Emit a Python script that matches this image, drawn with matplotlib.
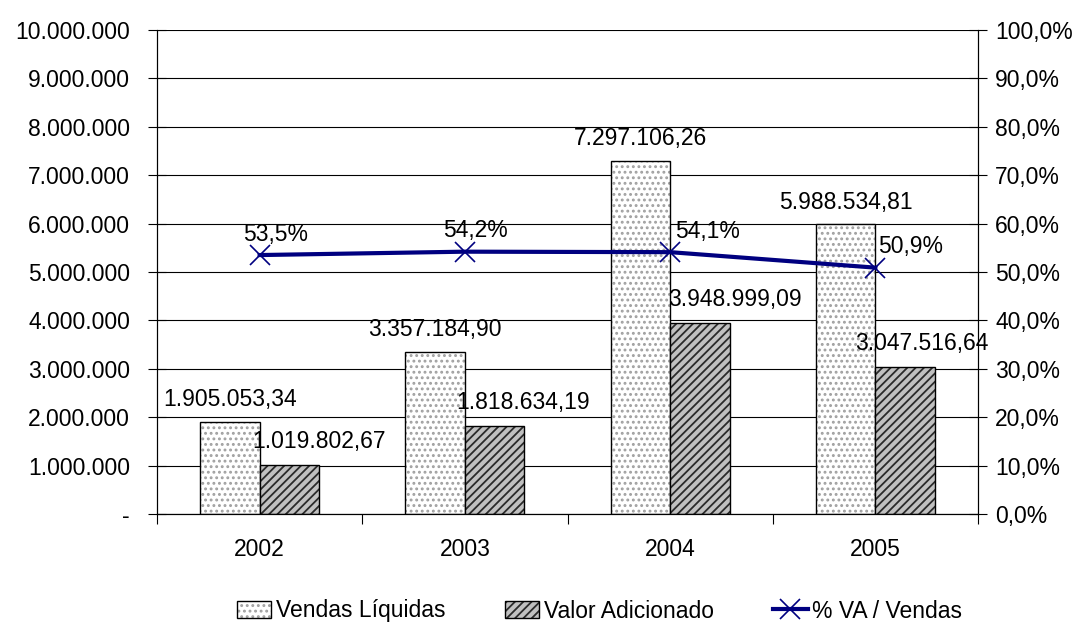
import matplotlib.pyplot as plt
from matplotlib.patches import Patch
from matplotlib.lines import Line2D
from matplotlib.legend_handler import HandlerTuple
import numpy as np

anos = ['2002', '2003', '2004', '2005']
vendas = [1905053.34, 3357184.90, 7297106.26, 5988534.81]
valor_adic = [1019802.67, 1818634.19, 3948999.09, 3047516.64]
pct_va = [53.5, 54.2, 54.1, 50.9]

# deslocamentos (px) dos rotulos, para evitar sobreposicao
dx_valor = [30, 28, 35, 17]
dx_pct = [-17, -22, 5, 3]


def br(v, casas=2):
    s = f'{v:,.{casas}f}'
    return s.replace(',', '#').replace('.', ',').replace('#', '.')


plt.rcParams['font.family'] = ['Liberation Sans', 'DejaVu Sans']
plt.rcParams['font.size'] = 16.5
plt.rcParams['hatch.linewidth'] = 1.3

fig = plt.figure(figsize=(10.78, 6.28), dpi=100)
ax = fig.add_axes([157 / 1078, 1 - 514 / 628, 821 / 1078, 484 / 628])
ax2 = ax.twinx()

x = np.arange(len(anos))
w = 0.29
px = 0.72  # pontos por pixel

ax.set_axisbelow(True)
ax.grid(axis='y', color='black', linewidth=0.8)

# barras: camada da textura + contorno preto
ax.bar(x - w / 2, vendas, w, color='white', edgecolor='#a0a0a0', hatch='...', linewidth=0)
ax.bar(x - w / 2, vendas, w, fill=False, edgecolor='black', linewidth=1)
ax.bar(x + w / 2, valor_adic, w, color='#c0c0c0', edgecolor='#2a2a2a', hatch='////', linewidth=0)
ax.bar(x + w / 2, valor_adic, w, fill=False, edgecolor='black', linewidth=1)

for i in range(len(anos)):
    ax.annotate(br(vendas[i]), (x[i] - w / 2, vendas[i]), xytext=(0, 22 * px),
                textcoords='offset points', ha='center', va='center')
    ax.annotate(br(valor_adic[i]), (x[i] + w / 2, valor_adic[i]), xytext=(dx_valor[i] * px, 23 * px),
                textcoords='offset points', ha='center', va='center')

ax2.plot(x, pct_va, color='#000080', linewidth=3, zorder=3)
ax2.plot(x, pct_va, linestyle='none', marker='x', markersize=14, markeredgewidth=1.2,
         color='#000080', zorder=4)
for i in range(len(anos)):
    ax2.annotate(br(pct_va[i], 1) + '%', (x[i], pct_va[i]), xytext=(dx_pct[i] * px, 21 * px),
                 textcoords='offset points', ha='left', va='center')

ax.set_xlim(-0.5, len(anos) - 0.5)
ax.set_ylim(0, 10000000)
ax2.set_ylim(0, 100)

yt = np.arange(0, 10000001, 1000000)
ax.set_yticks(yt)
ax.set_yticklabels(['-'] + [br(v, 0) for v in yt[1:]])
pt = np.arange(0, 101, 10)
ax2.set_yticks(pt)
ax2.set_yticklabels([br(v, 1) + '%' for v in pt])

ax.set_xticks(x)
ax.set_xticklabels(anos)
ax.set_xticks(np.arange(-0.5, len(anos), 1), minor=True)
ax.tick_params(axis='x', which='major', length=0, pad=17)
ax.tick_params(axis='x', which='minor', length=7, direction='out', width=0.8)
ax.tick_params(axis='y', direction='inout', length=13, width=0.8, pad=13)
ax2.tick_params(axis='y', direction='inout', length=13, width=0.8, pad=6)

for a in (ax, ax2):
    a.spines['top'].set_visible(False)
    for s in ('left', 'right', 'bottom'):
        a.spines[s].set_linewidth(0.8)

h_vendas = (Patch(facecolor='white', edgecolor='#a0a0a0', hatch='...', linewidth=0),
            Patch(fill=False, edgecolor='black', linewidth=1))
h_valor = (Patch(facecolor='#c0c0c0', edgecolor='#2a2a2a', hatch='////', linewidth=0),
           Patch(fill=False, edgecolor='black', linewidth=1))
h_pct = Line2D([], [], color='#000080', linewidth=3, marker='x', markersize=14,
               markeredgewidth=1.2)

fig.legend([h_vendas, h_valor, h_pct], ['Vendas Líquidas', 'Valor Adicionado', '% VA / Vendas'],
           handler_map={tuple: HandlerTuple(ndivide=1)}, loc='center',
           bbox_to_anchor=(0.556, 1 - 611 / 628), ncol=3, frameon=False,
           handlelength=1.5, handleheight=0.75, handletextpad=0.2, columnspacing=2.6)

fig.savefig('out.png', dpi=100)
